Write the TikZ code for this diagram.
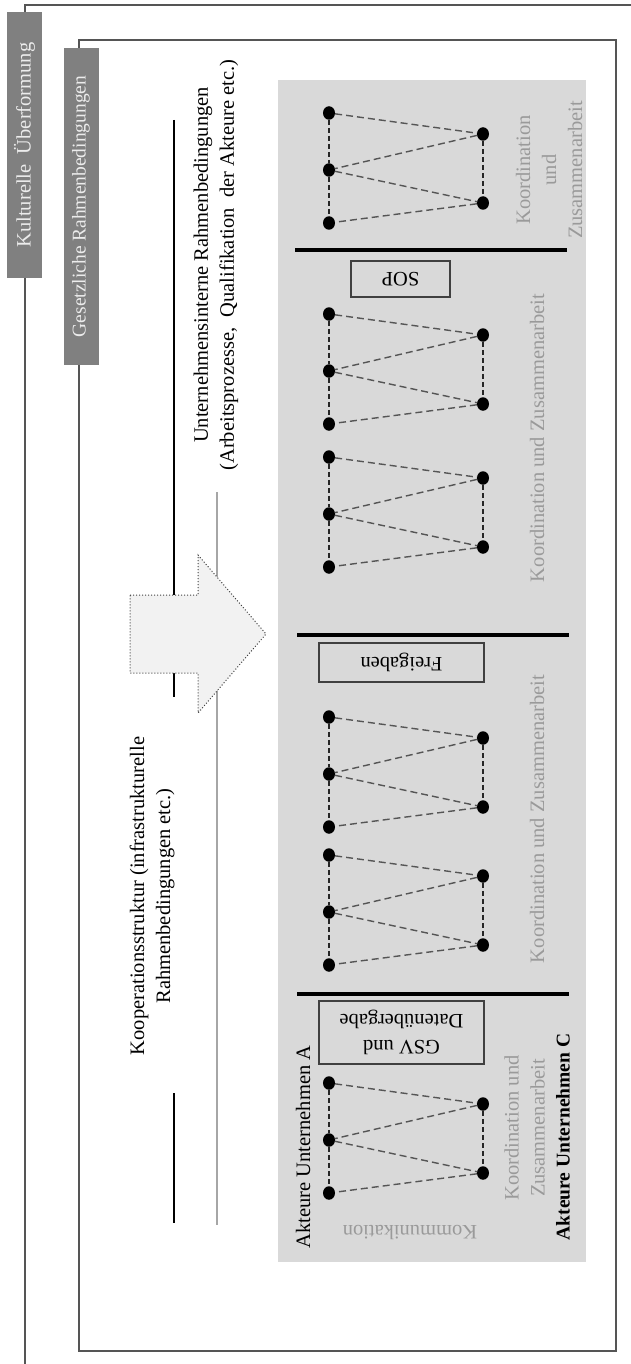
\documentclass[tikz,border=0pt]{standalone}
\usepackage{fontspec}
\setmainfont{Liberation Serif}
\usetikzlibrary{shapes.geometric}
\definecolor{framegray}{HTML}{555555}
\definecolor{labelgray}{HTML}{808080}
\definecolor{panelgray}{HTML}{D9D9D9}
\definecolor{arrowfill}{HTML}{F2F2F2}
\definecolor{softtext}{HTML}{9A9A9A}
\definecolor{edgegray}{HTML}{555555}
\definecolor{rulegray}{HTML}{A6A6A6}
\definecolor{boxline}{HTML}{404040}
\definecolor{tagtext}{HTML}{ECECEC}

\begin{document}
\begin{tikzpicture}[x=1pt,y=-1pt,
  txt/.style={font=\fontsize{20.5}{26}\selectfont, inner sep=0pt, align=center},
  soft/.style={txt, text=softtext},
  tag/.style={fill=labelgray, text=tagtext, font=\fontsize{19.5}{23}\selectfont,
    rotate=90, inner sep=0pt, minimum height=35pt},
  framing/.style={draw=framegray, line width=1.8pt},
  stagebox/.style={draw=boxline, line width=1.4pt, inner sep=0pt, txt, rotate=180},
  dot/.style={ellipse, fill=black, inner sep=0pt, minimum width=12pt, minimum height=13.5pt},
  diag/.style={draw=edgegray, line width=1.4pt, dash pattern=on 7pt off 4pt},
  vert/.style={draw=black!85, line width=1.1pt, dash pattern=on 5pt off 3pt},
  divider/.style={draw=black, line width=4pt},
  bar/.style={draw=black, line width=2.6pt},
]
\useasboundingbox (0,0) rectangle (631,1364);

% grey working area
\fill[panelgray] (278,80) rectangle (586,1262);

% outer and inner frames
\draw[framing] (631,5) -- (25,5) -- (25,1364);
\draw[framing] (79,40) rectangle (616,1351);

% frame labels
\node[tag, minimum width=265pt, font=\fontsize{20.5}{23}\selectfont] (kultur) at (24.5,145) {Kulturelle\ \ Überformung};
\node[tag, minimum width=317pt] (gesetz) at (81,206.5) {Gesetzliche Rahmenbedingungen};

% guide lines beside the headings
\draw[bar] (174,120) -- (174,697);
\draw[bar] (174,1093) -- (174,1223);
\draw[draw=rulegray, line width=1.5pt] (217,492) -- (217,1225);

% broad arrow into the process area
\draw[draw=boxline, line width=1pt, dotted, fill=arrowfill]
  (130,595) -- (198,595) -- (198,555) -- (266,634) -- (198,713) -- (198,673) -- (130,673) -- cycle;

% headings
\node[txt, rotate=90] (intern) at (216,265)
  {Unternehmensinterne Rahmenbedingungen\\(Arbeitsprozesse,\ \ Qualifikation\ \ der Akteure etc.)};
\node[txt, rotate=90] (koop) at (152,896)
  {Kooperationsstruktur (infrastrukturelle\\Rahmenbedingungen etc.)};

% phase dividers
\draw[divider] (295,250) -- (567,250);
\draw[divider] (297,635) -- (569,635);
\draw[divider] (297,994) -- (569,994);

% milestones
\node[stagebox, minimum width=99pt, minimum height=36pt] (sop) at (400.5,279) {SOP};
\node[stagebox, minimum width=165pt, minimum height=39pt] (frei) at (401.5,662.5) {Freigaben};
\node[stagebox, minimum width=165pt, minimum height=63pt] (gsv) at (401.5,1032.5) {GSV und\\Datenübergabe};

% actor networks
\foreach \n/\y in {1/113,2/314,3/457,4/717,5/855,6/1083}{
  \node[dot] (l1-\n) at (329,\y) {};
  \node[dot] (r1-\n) at (483,\y+21) {};
  \node[dot] (l2-\n) at (329,\y+57) {};
  \node[dot] (r2-\n) at (483,\y+90) {};
  \node[dot] (l3-\n) at (329,\y+110) {};
  \draw[diag] (l1-\n) -- (r1-\n) -- (l2-\n) -- (r2-\n) -- (l3-\n);
  \draw[vert] (l1-\n) -- (l2-\n) -- (l3-\n);
  \draw[vert] (r1-\n) -- (r2-\n);
}

% network captions
\node[soft, rotate=90] (kz1) at (549,170) {Koordination\\und\\Zusammenarbeit};
\node[soft, rotate=90] (kz2) at (537,438) {Koordination und Zusammenarbeit};
\node[soft, rotate=90] (kz3) at (537,819) {Koordination und Zusammenarbeit};
\node[soft, rotate=90] (kz4) at (524.5,1128) {Koordination und\\Zusammenarbeit};
\node[soft, rotate=180] (komm) at (410,1232) {Kommunikation};
\node[txt, rotate=90] (aktA) at (303,1147) {Akteure Unternehmen A};
\node[txt, rotate=90, font=\fontsize{19.5}{24}\selectfont\bfseries] (aktC) at (563,1137) {Akteure Unternehmen C};
\end{tikzpicture}
\end{document}
